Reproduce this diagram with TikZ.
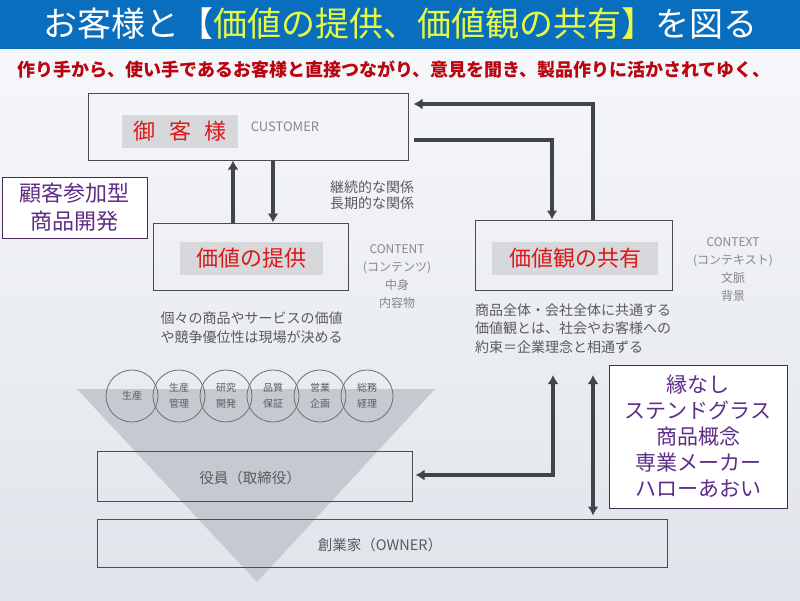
\documentclass[tikz,border=0pt]{standalone}
\usepackage{fontspec}
\setmainfont{Noto Sans CJK JP}
\usetikzlibrary{arrows.meta}
\definecolor{titleblue}{RGB}{10,110,190}
\definecolor{titleyellow}{RGB}{228,250,70}
\definecolor{leadred}{RGB}{185,5,15}
\definecolor{bgtop}{RGB}{246,247,250}
\definecolor{bgbottom}{RGB}{224,228,234}
\definecolor{edgegray}{RGB}{75,75,80}
\definecolor{taggray}{RGB}{214,216,220}
\definecolor{tagred}{RGB}{220,25,25}
\definecolor{notegray}{RGB}{90,90,95}
\definecolor{enggray}{RGB}{135,135,140}
\definecolor{ringgray}{RGB}{110,110,115}
\definecolor{wedgegray}{RGB}{198,202,208}
\definecolor{arrowgray}{RGB}{65,68,75}
\definecolor{memoedge}{RGB}{70,40,90}
\definecolor{memotext}{RGB}{95,45,135}

\begin{document}
\begin{tikzpicture}[x=1pt,y=-1pt,
    panel/.style={draw=edgegray, line width=1pt, inner sep=0pt},
    tag/.style={fill=taggray, text=tagred, inner sep=0pt, minimum height=33pt, font=\fontsize{22}{26}\selectfont},
    note/.style={text=notegray, align=center, inner sep=0pt, font=\fontsize{14}{18.5}\selectfont},
    eng/.style={text=enggray, align=center, inner sep=0pt, font=\fontsize{12}{18}\selectfont},
    dept/.style={circle, draw=ringgray, line width=0.8pt, minimum size=52pt, inner sep=0pt, text=notegray, align=center, font=\fontsize{10}{16}\selectfont},
    memo/.style={draw=memoedge, line width=1pt, fill=white, text=memotext, align=center, inner sep=0pt},
    flow/.style={draw=arrowgray, line width=3.5pt, -{Latex[length=9pt,width=11pt]}},
    twoway/.style={flow, {Latex[length=9pt,width=11pt]}-{Latex[length=9pt,width=11pt]}}]
    \useasboundingbox (0,0) rectangle (800,600);

    % Background and title
    \shade[top color=bgtop, bottom color=bgbottom] (0,49) rectangle (800,600);
    \fill[titleblue] (0,0) rectangle (800,49);
    \node[text=white, inner sep=0pt, font=\fontsize{34}{40}\selectfont] (title) at (400,24)
        {お客様と【\textcolor{titleyellow}{価値の提供、価値観の共有】}を図る};
    \node[text=leadred, inner sep=0pt, font=\bfseries\fontsize{18}{22}\selectfont] (lead) at (394,70)
        {作り手から、使い手であるお客様と直接つながり、意見を聞き、製品作りに活かされてゆく、};

    % Customer
    \node[panel, minimum width=320pt, minimum height=67pt] (cust) at (248,126.5) {};
    \node[tag, minimum width=116pt] (custtag) at (180,131.5) {御\hspace{0.6em}客\hspace{0.6em}様};
    \node[eng, font=\fontsize{13}{16}\selectfont] (custen) at (285,127) {CUSTOMER};

    % Value (content)
    \node[panel, minimum width=195pt, minimum height=67pt] (value) at (250.5,256.5) {};
    \node[tag, minimum width=143pt] (valuetag) at (251.5,258.5) {価値の提供};
    \node[eng] (content) at (397,277) {CONTENT\\(コンテンツ)\\中身\\内容物};
    \node[note] (valuenote) at (251.5,327.5) {個々の商品やサービスの価値\\や競争優位性は現場が決める};

    % Values shared (context)
    \node[panel, minimum width=197pt, minimum height=70pt] (view) at (573.5,255) {};
    \node[tag, minimum width=166pt] (viewtag) at (575,258.5) {価値観の共有};
    \node[eng] (context) at (733,270) {CONTEXT\\(コンテキスト)\\文脈\\背景};
    \node[note, align=left, anchor=west] (viewnote) at (475,328.5)
        {商品全体・会社全体に共通する\\価値観とは、社会やお客様への\\約束＝企業理念と相通ずる};

    \node[note, font=\fontsize{14}{16.5}\selectfont] (tie) at (372,195) {継続的な関係\\長期的な関係};

    % Organisation
    \fill[wedgegray] (77,389) -- (435,389) -- (257,582) -- cycle;
    \foreach \i/\x/\lbl in {1/132/生産, 2/179/生産\\管理, 3/226/研究\\開発,
                             4/273/品質\\保証, 5/320/営業\\企画, 6/367/総務\\経理}
        \node[dept] (d\i) at (\x,396) {\lbl};
    \node[panel, minimum width=315pt, minimum height=50pt] (exec) at (254.5,476) {};
    \node[note, font=\fontsize{14.5}{18}\selectfont] (execlbl) at (250,478) {役員（取締役）};
    \node[panel, minimum width=570pt, minimum height=48pt] (owner) at (382,543) {};
    \node[note, font=\fontsize{14.5}{18}\selectfont] (ownerlbl) at (380,545) {創業家（OWNER）};

    % Side notes
    \node[memo, minimum width=145pt, minimum height=61pt, font=\fontsize{22}{28}\selectfont] (join) at (74.5,207.5)
        {顧客参加型\\商品開発};
    \node[memo, minimum width=178pt, minimum height=143pt, font=\fontsize{21}{26}\selectfont] (maker) at (698,436.5)
        {縁なし\\ステンドグラス\\商品概念\\専業メーカー\\ハローあおい};

    % Arrows
    \coordinate (upx) at (233,0);
    \coordinate (downx) at (273,0);
    \draw[flow] (value.north -| upx) -- (cust.south -| upx);
    \draw[flow] (cust.south -| downx) -- (value.north -| downx);
    \coordinate (r1) at (552,140);
    \coordinate (r2) at (593,104);
    \draw[flow, shorten <=5pt] (cust.east |- r1) -- (r1) -- (view.north -| r1);
    \draw[flow, shorten >=5pt] (view.north -| r2) -- (r2) -- (cust.east |- r2);
    \coordinate (r3) at (553,475);
    \coordinate (t3) at (553,375);
    \coordinate (t4) at (593,375);
    \draw[twoway, shorten <=3pt] (exec.east |- r3) -- (r3) -- (t3);
    \draw[twoway, shorten >=3pt] (t4) -- (owner.north -| t4);
\end{tikzpicture}
\end{document}
